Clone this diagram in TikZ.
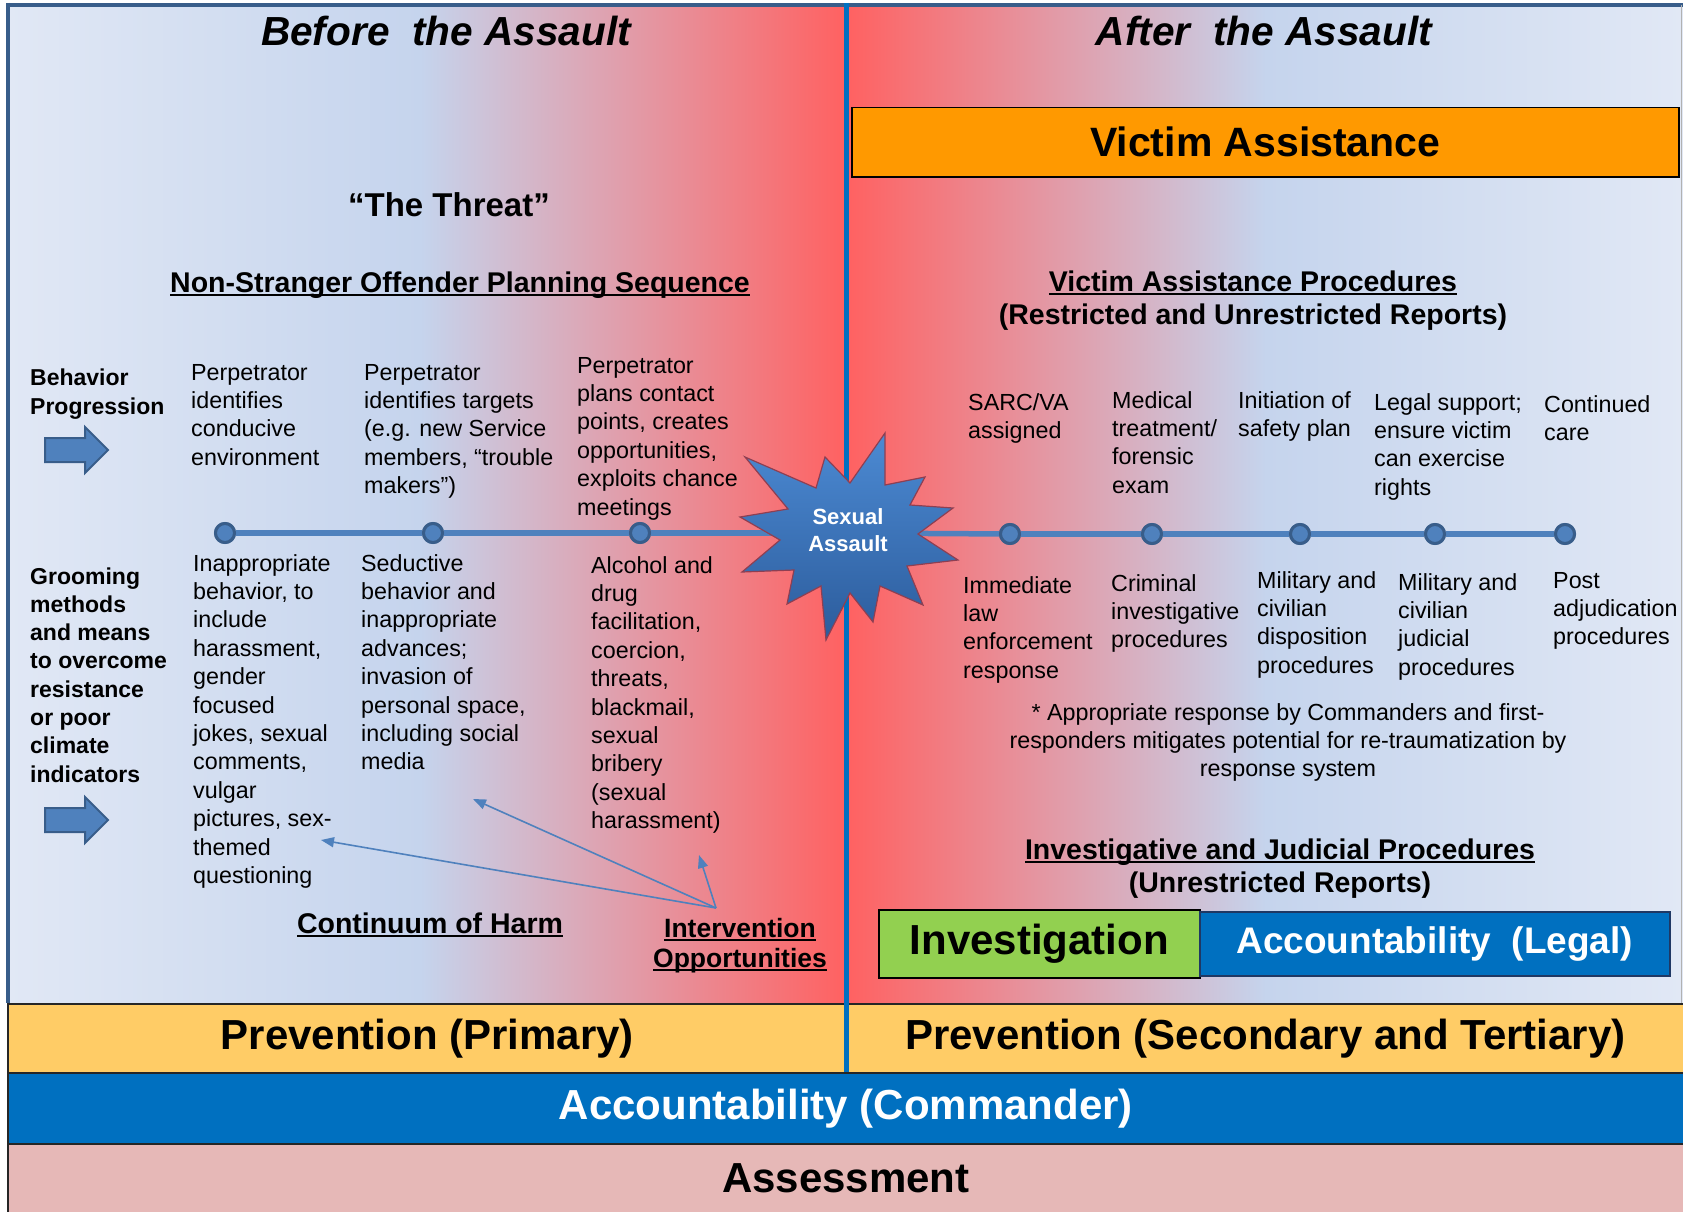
\documentclass[tikz,border=0pt]{standalone}
\usepackage{fontspec}
\setmainfont{Liberation Sans}
\usetikzlibrary{arrows.meta}
\definecolor{pBlue}{HTML}{C5D4ED}
\definecolor{pLight}{HTML}{E1E8F5}
\definecolor{pPink}{HTML}{DCA6B7}
\definecolor{pRed}{HTML}{FF6161}
\definecolor{lineBlue}{HTML}{4F81BD}
\definecolor{darkBlue}{HTML}{385D8A}
\definecolor{accBlue}{HTML}{0070C0}
\definecolor{prevYellow}{HTML}{FFCC66}
\definecolor{assessPink}{HTML}{E6B8B7}
\definecolor{vaOrange}{HTML}{FF9900}
\definecolor{invGreen}{HTML}{92D050}
\definecolor{starTop}{HTML}{4C8AD3}
\definecolor{starBot}{HTML}{2C5C9C}
\definecolor{starEdge}{HTML}{8E3F52}
\definecolor{legalEdge}{HTML}{1F3864}
\newcommand\ulx[1]{\setbox0\hbox{#1}\rlap{\rule[-0.14em]{\wd0}{0.075em}}\box0}
\newcommand\fBody{\fontsize{23.3}{28.4}\selectfont}
\newcommand\fHead{\fontsize{28.5}{33}\selectfont\bfseries}
\newcommand\fBand{\fontsize{42}{50}\selectfont\bfseries}
\tikzset{
  txt/.style={inner sep=0pt, anchor=base west, align=left, font=\fBody},
  hdr/.style={inner sep=0pt, anchor=base, align=center, font=\fHead},
  band/.style={draw=black!85, line width=1.5pt, inner sep=0pt, font=\fBand, anchor=north west},
  dot/.style={circle, fill=lineBlue, draw=darkBlue, line width=3pt, minimum size=19pt, inner sep=0pt},
  tl/.style={draw=lineBlue, line width=5.5pt},
  ia/.style={draw=lineBlue, line width=1.6pt, -{Triangle[length=13pt,width=10pt]}},
  blockarrow/.style={fill=lineBlue, draw=darkBlue, line width=2pt, line join=miter},
}
\begin{document}
\begin{tikzpicture}[x=1pt,y=-1pt]
\useasboundingbox (0,0) rectangle (1683,1212);
\fill[white] (0,0) rectangle (1683,1212);
% gradient panels
\shade[left color=pLight, right color=pBlue] (7,5) rectangle (421,1003);
\shade[left color=pBlue, middle color=pPink, right color=pRed] (420,5) rectangle (846,1003);
\shade[left color=pRed, middle color=pPink, right color=pBlue] (846,5) rectangle (1266,1003);
\shade[left color=pBlue, right color=pLight] (1265,5) rectangle (1683,1003);
% borders
\draw[darkBlue, line width=4pt] (6,5) -- (1683,5);
\draw[darkBlue, line width=4pt] (8,3) -- (8,1003);
\draw[black!30, line width=1pt] (1681,5) -- (1681,1003);
% bands
\node[band, fill=prevYellow, minimum width=839pt, minimum height=69pt] (prevL) at (7,1003) {Prevention (Primary)};
\node[band, fill=prevYellow, minimum width=837pt, minimum height=69pt] (prevR) at (846,1003) {Prevention (Secondary and Tertiary)};
\node[band, fill=accBlue, text=white, minimum width=1676pt, minimum height=71pt] (accC) at (7,1072) {Accountability (Commander)};
\node[band, fill=assessPink, minimum width=1676pt, minimum height=69pt] (assess) at (7,1143) {Assessment};
% divider
\draw[accBlue, line width=5pt] (846,3) -- (846,1072);
% titles
\node[inner sep=0pt, anchor=base, font=\fontsize{40.6}{48}\selectfont\bfseries\itshape] (before) at (446,46) {Before\ \ the Assault};
\node[inner sep=0pt, anchor=base, font=\fontsize{40.6}{48}\selectfont\bfseries\itshape] (after) at (1264,46) {After\ \ the Assault};
\node[draw=black, line width=1.5pt, fill=vaOrange, anchor=north west, minimum width=827pt, minimum height=69pt, inner sep=0pt, font=\fontsize{41}{48}\selectfont\bfseries] (va) at (851,107) {Victim Assistance};
\node[inner sep=0pt, anchor=base, font=\fontsize{33}{40}\selectfont\bfseries] (threat) at (449,216) {“The Threat”};
% headers (anchor = baseline of last line)
\node[hdr] (nsops) at (460,292) {\ulx{Non-Stranger Offender Planning Sequence}};
\node[hdr] (vap) at (1253,324) {\ulx{Victim Assistance Procedures}\\(Restricted and Unrestricted Reports)};
\node[hdr] (ijp) at (1280,892) {\ulx{Investigative and Judicial Procedures}\\(Unrestricted Reports)};
\node[hdr] (coh) at (430,933) {\ulx{Continuum of Harm}};
\node[hdr, font=\fontsize{26.5}{30}\selectfont\bfseries] (iop) at (740,967) {\ulx{Intervention}\\\ulx{Opportunities}};
% left labels
\node[txt, font=\fontsize{23}{29}\selectfont\bfseries] (bp) at (30,414) {Behavior\\Progression};
\node[txt, font=\fontsize{23}{28.3}\selectfont\bfseries] (gm) at (30,782.1) {Grooming\\methods\\and means\\to overcome\\resistance\\or poor\\climate\\indicators};
\draw[blockarrow] (45,438) -- (85,438) -- (85,427) -- (108,450) -- (85,473) -- (85,462) -- (45,462) -- cycle;
\draw[blockarrow] (45,808) -- (85,808) -- (85,797) -- (108,820) -- (85,843) -- (85,832) -- (45,832) -- cycle;
% timeline
\node[dot] (L1) at (225,533) {};
\node[dot] (L2) at (433,533) {};
\node[dot] (L3) at (640,533) {};
\node[dot] (R1) at (1010,534) {};
\node[dot] (R2) at (1152,534) {};
\node[dot] (R3) at (1300,534) {};
\node[dot] (R4) at (1435,534) {};
\node[dot] (R5) at (1565,534) {};
\coordinate (sac) at (848,533);
\draw[tl] (L1) -- (L2);
\draw[tl] (L2) -- (L3);
\draw[tl] (L3) -- (sac);
\draw[tl] (sac) -- (R1);
\draw[tl] (R1) -- (R2);
\draw[tl] (R2) -- (R3);
\draw[tl] (R3) -- (R4);
\draw[tl] (R4) -- (R5);
\foreach \n in {L1,L2,L3,R1,R2,R3,R4,R5} {\node[dot] at (\n) {};}
% starburst
\shadedraw[top color=starTop, bottom color=starBot, draw=starEdge, line width=1.2pt, line join=miter]
  (745,457) -- (816,488) -- (825,457) -- (850,483) -- (885,433) -- (885,485) -- (925,477) -- (910,505)
  -- (953,508) -- (918,534) -- (958,560) -- (907,566) -- (923,605) -- (880,586) -- (873,622) -- (850,593)
  -- (826,640) -- (821,586) -- (787,604) -- (794,570) -- (742,572) -- (780,540) -- (740,517) -- (788,509) -- cycle;
\node[inner sep=0pt, align=center, text=white, font=\fontsize{22}{27.5}\selectfont\bfseries] (sa) at (848,530) {Sexual\\Assault};
% body text left (anchor = baseline of last line)
\node[txt] (ta) at (191,465.2) {Perpetrator\\identifies\\conducive\\environment};
\node[txt] (tb) at (364,493.6) {Perpetrator\\identifies targets\\(e.g. new Service\\members, “trouble\\makers”)};
\node[txt] (tc) at (577,515) {Perpetrator\\plans contact\\points, creates\\opportunities,\\exploits chance\\meetings};
\node[txt] (ba) at (193,883.4) {Inappropriate\\behavior, to\\include\\harassment,\\gender\\focused\\jokes, sexual\\comments,\\vulgar\\pictures, sex-\\themed\\questioning};
\node[txt] (bb) at (361,769.8) {Seductive\\behavior and\\inappropriate\\advances;\\invasion of\\personal space,\\including social\\media};
\node[txt] (bc) at (591,828.6) {Alcohol and\\drug\\facilitation,\\coercion,\\threats,\\blackmail,\\sexual\\bribery\\(sexual\\harassment)};
% body text right
\node[txt] (r1t) at (968,438.4) {SARC/VA\\assigned};
\node[txt] (r2t) at (1112,493.2) {Medical\\treatment/\\forensic\\exam};
\node[txt] (r3t) at (1238,436.4) {Initiation of\\safety plan};
\node[txt] (r4t) at (1374,495.2) {Legal support;\\ensure victim\\can exercise\\rights};
\node[txt] (r5t) at (1544,440.4) {Continued\\care};
\node[txt] (r1b) at (963,678.2) {Immediate\\law\\enforcement\\response};
\node[txt] (r2b) at (1111,647.8) {Criminal\\investigative\\procedures};
\node[txt] (r3b) at (1257,673.2) {Military and\\civilian\\disposition\\procedures};
\node[txt] (r4b) at (1398,675.2) {Military and\\civilian\\judicial\\procedures};
\node[txt] (r5b) at (1553,644.8) {Post\\adjudication\\procedures};
\node[txt, anchor=base, align=center] (fn) at (1288,776.8) {* Appropriate response by Commanders and first-\\responders mitigates potential for re-traumatization by\\response system};
% investigation boxes
\node[draw=black, line width=1.5pt, fill=invGreen, anchor=north west, minimum width=321pt, minimum height=68pt, inner sep=0pt, font=\fBand] (inv) at (878,909) {Investigation};
\node[draw=legalEdge, line width=1.5pt, fill=accBlue, text=white, anchor=north west, minimum width=470pt, minimum height=64pt, inner sep=0pt, font=\fontsize{37}{44}\selectfont\bfseries] (legal) at (1199,911) {Accountability\ \ (Legal)};
% intervention arrows
\coordinate (io) at (716,908);
\coordinate (t1) at (321,840);
\coordinate (t2) at (473,799);
\coordinate (t3) at (699,855);
\draw[ia] (io) -- (t1);
\draw[ia] (io) -- (t2);
\draw[ia] (io) -- (t3);
\end{tikzpicture}
\end{document}
